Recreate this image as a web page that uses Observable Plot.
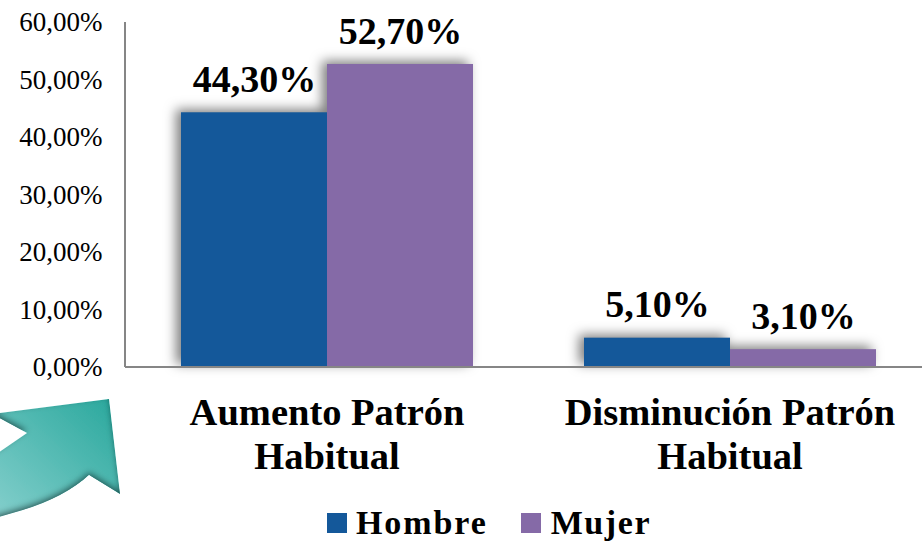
<!DOCTYPE html>
<html><head><meta charset="utf-8">
<script src="https://cdn.jsdelivr.net/npm/d3@7"></script>
<script src="https://cdn.jsdelivr.net/npm/@observablehq/plot@0.6"></script>
<style>
html,body{margin:0;padding:0;background:#fff;width:922px;height:542px;overflow:hidden;position:relative;font-family:"Liberation Serif",serif}
#chart{position:absolute;left:0;top:0}
#chart svg{overflow:visible;background:none}
#arrow{position:absolute;left:0;top:380px}
#legend{position:absolute;left:0;top:505px;width:922px;height:36px;box-sizing:border-box;padding-left:327px;display:flex;justify-content:flex-start;align-items:center;font:bold 34px/34px "Liberation Serif",serif;color:#000;letter-spacing:1.9px}
#legend span.k{display:inline-block;width:20px;height:20px;flex:none}
#legend span.k0{margin-right:9px}
#legend span.k1{margin-right:10px}
#legend span.t{display:block;height:34px;white-space:nowrap}
#legend span.t0{margin-right:33px}
#legend span.t1{letter-spacing:1.6px}
.bars{filter:drop-shadow(-5px -3px 6px rgba(0,0,0,.5))}
</style></head><body>
<div id="chart"></div>
<svg id="arrow" width="140" height="140" viewBox="0 380 140 140">
<defs><linearGradient id="g" x1="0" y1="1" x2="1" y2="0"><stop offset="0" stop-color="#86d0cd"/><stop offset="1" stop-color="#28a79c"/></linearGradient>
<filter id="s" x="-20%" y="-20%" width="140%" height="140%"><feGaussianBlur in="SourceAlpha" stdDeviation="3"/><feOffset dx="0" dy="-3"/><feComposite in2="SourceAlpha" operator="arithmetic" k2="-1" k3="1" result="i"/><feFlood flood-color="#0d3c3c" flood-opacity=".9"/><feComposite in2="i" operator="in"/><feComposite in2="SourceGraphic" operator="over"/></filter>
</defs>
<path filter="url(#s)" fill="url(#g)" d="M-8 414 L109 399 L120 494 L89 475 Q65 497 23 510 L-8 519 L-8 457 L27 433 Z"/>
</svg>
<div id="legend"></div>
<script>
const categories = ["Aumento Patrón\nHabitual", "Disminución Patrón\nHabitual"];
const sexes = ["Hombre", "Mujer"];
const hombre = [44.3, 5.1];
const mujer = [52.7, 3.1];
const colors = ["#14589a", "#856aa7"];
const yTicks = [0, 10, 20, 30, 40, 50, 60];
const pct = v => v.toFixed(2).replace(".", ",") + "%";
const rows = categories.flatMap((c, i) => [
  {cat: c, sex: sexes[0], v: hombre[i]},
  {cat: c, sex: sexes[1], v: mujer[i]}
]);
const plot = Plot.plot({
  width: 922, height: 502,
  marginLeft: 125, marginRight: 0, marginTop: 22, marginBottom: 135,
  style: {background: "none", fontFamily: "Liberation Serif", overflow: "visible"},
  fx: {domain: categories, range: [125, 931], padding: 0, label: null},
  x: {domain: sexes, paddingInner: 0, paddingOuter: 0.373, axis: null},
  y: {domain: [0, 60], range: [367, 22], label: null},
  color: {domain: sexes, range: colors},
  marks: [
    Plot.barY(rows, {fx: "cat", x: "sex", y: "v", fill: "sex", className: "bars"}),
    Plot.axisY({ticks: yTicks, tickFormat: pct, tickSize: 0, tickPadding: 23, fontSize: 27, fill: "#000", label: null, marginLeft: 125}),
    Plot.axisFx({anchor: "bottom", tickSize: 0, tickPadding: 26, fontSize: 38.5, fontWeight: "bold", fill: "#000", label: null, lineHeight: 1.14}),
    Plot.text(rows, {fx: "cat", x: "sex", y: "v", text: d => pct(d.v), fontSize: 38, fontWeight: "bold", fill: "#000", dy: -33}),
  ]
});
document.getElementById("chart").append(plot);
const sy = plot.scale("y");
const ns = "http://www.w3.org/2000/svg";
for (const [x1,x2,y1,y2] of [[125,125,sy.apply(60),sy.apply(0)],[125,922,sy.apply(0),sy.apply(0)]]) {
  const l = document.createElementNS(ns,"line");
  l.setAttribute("x1",x1);l.setAttribute("x2",x2);l.setAttribute("y1",y1);l.setAttribute("y2",y2);
  l.setAttribute("stroke","#868686");l.setAttribute("stroke-width",2);
  plot.append(l);
}
const lg = document.getElementById("legend");
sexes.forEach((s, i) => {
  lg.insertAdjacentHTML("beforeend", `<span class="k k${i}" style="background:${colors[i]}"></span><span class="t t${i}">${s}</span>`);
});
</script>
</body></html>
